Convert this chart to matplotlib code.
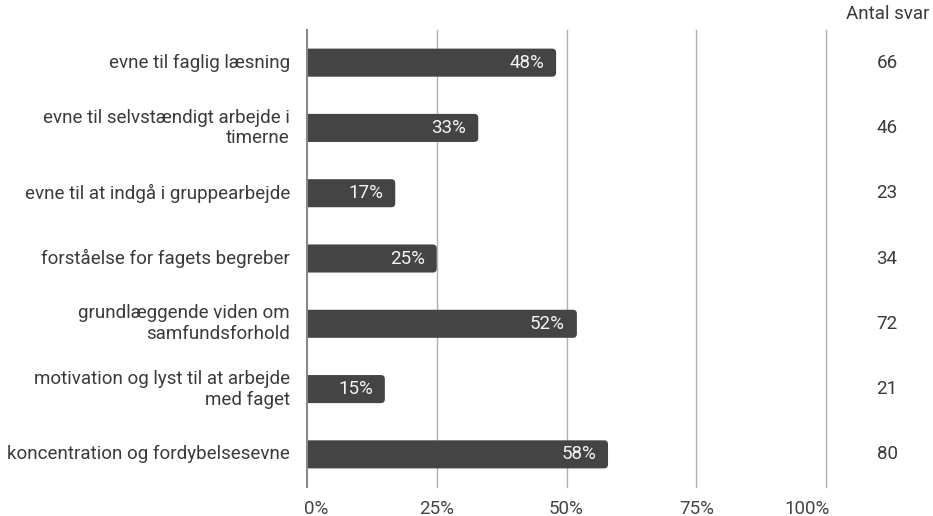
import matplotlib
matplotlib.use("Agg")
from matplotlib import pyplot as plt
from matplotlib.patches import FancyBboxPatch
import matplotlib.transforms as mtransforms

plt.rcParams['font.family'] = ['Roboto', 'DejaVu Sans']

categories = [
    "evne til faglig læsning",
    "evne til selvstændigt arbejde i\ntimerne",
    "evne til at indgå i gruppearbejde",
    "forståelse for fagets begreber",
    "grundlæggende viden om\nsamfundsforhold",
    "motivation og lyst til at arbejde\nmed faget",
    "koncentration og fordybelsesevne",
]
percent = [48, 33, 17, 25, 52, 15, 58]
antal_svar = [66, 46, 23, 34, 72, 21, 80]
tick_values = [0, 25, 50, 75, 100]
tick_labels = ["0%", "25%", "50%", "75%", "100%"]

W, H = 933, 516
fig = plt.figure(figsize=(W / 100, H / 100), dpi=100)
ax = fig.add_axes([307 / W, 1 - 487 / H, (826 - 307) / W, (487 - 30) / H])

fs = 13.5
bar_h = 0.43
bar_color = "#444444"
text_color = "#3a3a3a"
px_x = 100 / (826 - 307)      # data units per pixel in x
px_y = 7 / (487 - 30)         # data units per pixel in y
radius = 4 * px_x

for i, (cat, val) in enumerate(zip(categories, percent)):
    box = FancyBboxPatch((-3, i - bar_h / 2), val + 3, bar_h,
                         boxstyle=f"round,pad=0,rounding_size={radius}",
                         mutation_aspect=px_y / px_x,
                         facecolor=bar_color, edgecolor="none", zorder=3)
    ax.add_patch(box)
    ax.text(val - 12 * px_x, i, f"{val}%", ha="right", va="center",
            color="#f4f4f4", fontsize=fs, zorder=4)
    ax.text(-17 * px_x, i, cat, ha="right", va="center",
            color=text_color, fontsize=fs, linespacing=1.2)
    ax.text((887 - 307) * px_x, i, str(antal_svar[i]), ha="center", va="center",
            color=text_color, fontsize=fs, clip_on=False)

ax.text((888 - 307) * px_x, -0.5 - 7 * px_y, "Antal svar", ha="center", va="bottom",
        color=text_color, fontsize=fs)

ax.set_xlim(0, 100)
ax.set_ylim(6.5, -0.5)

for x in tick_values:
    ax.axvline(x, color="#888888" if x == 0 else "#b0b0b0",
               lw=1.5 if x == 0 else 1, zorder=1 if x else 5, clip_on=False)

ax.set_xticks(tick_values)
ax.set_xticklabels(tick_labels, fontsize=fs, color="#444444")
ax.tick_params(axis="x", length=0, pad=9)
labels = ax.get_xticklabels()
labels[0].set_horizontalalignment("left")
labels[0].set_transform(labels[0].get_transform() +
                        mtransforms.ScaledTranslation(-3 / 100, 0, fig.dpi_scale_trans))
labels[-1].set_horizontalalignment("right")
labels[-1].set_transform(labels[-1].get_transform() +
                         mtransforms.ScaledTranslation(4 / 100, 0, fig.dpi_scale_trans))
ax.set_yticks([])
for s in ax.spines.values():
    s.set_visible(False)

fig.savefig("out.png", dpi=100)
